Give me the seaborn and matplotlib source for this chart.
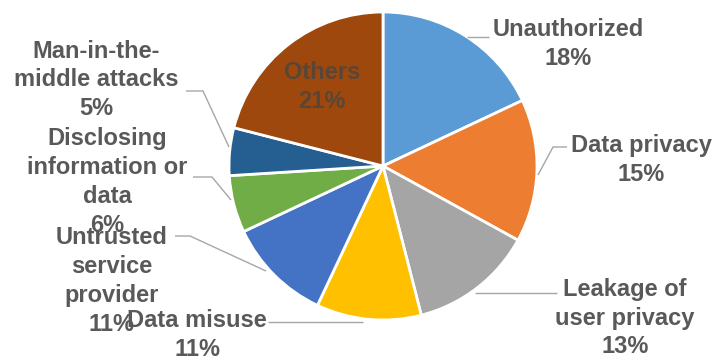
import matplotlib
matplotlib.use("Agg")
import matplotlib.pyplot as plt
import seaborn as sns

# ---- data ----
categories = ["Unauthorized", "Data privacy", "Leakage of\nuser privacy", "Data misuse",
              "Untrusted\nservice\nprovider", "Disclosing\ninformation or\ndata",
              "Man-in-the-\nmiddle attacks", "Others"]
values = [18, 15, 13, 11, 11, 6, 5, 21]
hex_colors = ["#5B9BD5", "#ED7D31", "#A5A5A5", "#FFC000", "#4472C4", "#70AD47", "#255E91", "#9E480E"]

# ---- layout (pixel coords, y from top) ----
W, H = 715, 358
CX, CY, R = 383, 166, 154
label_pos = [(568, 44), (641, 160), (625, 318), (197, 335),
             (112, 281), (107, 182), (96, 80), (322, 87)]
leaders = [
    [(467, 37), (489, 37)],
    [(538, 175), (553, 147), (567, 147)],
    [(475, 293), (557, 293)],
    [(363, 322), (268, 322)],
    [(266, 271), (190, 236), (175, 236)],
    [(231, 200), (212, 177), (193, 177)],
    [(229, 147), (203, 91), (186, 91)],
]

sns.set_theme(style="white")
plt.rcParams["font.family"] = ["Liberation Sans", "DejaVu Sans"]
palette = sns.color_palette(hex_colors)

fig = plt.figure(figsize=(W / 100, H / 100), dpi=100)
ax = fig.add_axes([0, 0, 1, 1])

def fy(y):
    return H - y

ax.pie(values, colors=palette, startangle=90, counterclock=False,
       center=(CX, fy(CY)), radius=R,
       wedgeprops=dict(edgecolor="white", linewidth=2))
ax.set_xlim(0, W)
ax.set_ylim(0, H)
ax.set_aspect("equal")
ax.axis("off")

for pts in leaders:
    xs = [p[0] for p in pts]
    ys = [fy(p[1]) for p in pts]
    ax.plot(xs, ys, color="#A6A6A6", lw=1, solid_capstyle="butt")

text_color = "#595959"
for i, (cat, val, (x, y)) in enumerate(zip(categories, values, label_pos)):
    col = "#5a4636" if cat == "Others" else text_color
    ax.text(x, fy(y), f"{cat}\n{val}%", ha="center", va="center",
            multialignment="center", fontsize=17, fontweight="bold",
            color=col, linespacing=1.32)

fig.savefig("out.png", dpi=100)
